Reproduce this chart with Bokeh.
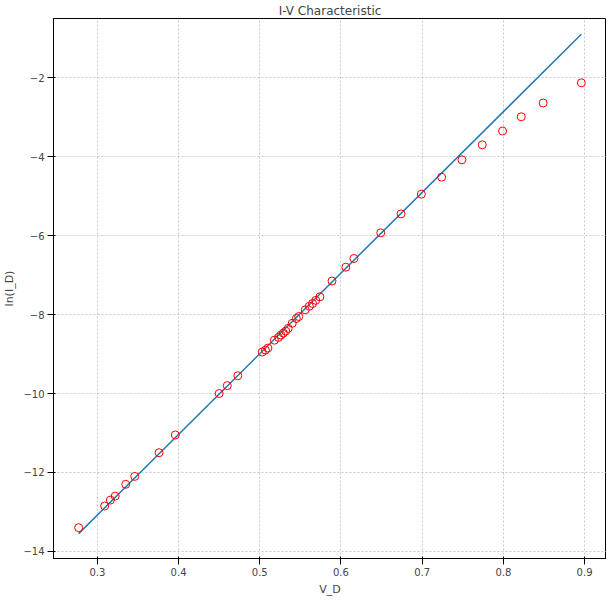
from bokeh.plotting import figure
from bokeh.embed import file_html
from bokeh.resources import INLINE
from bokeh.models import Range1d

v_d = [0.277,0.309,0.316,0.322,0.335,0.346,0.376,0.396,0.45,0.46,0.473,0.503,0.507,0.51,0.518,
       0.523,0.526,0.529,0.532,0.535,0.54,0.545,0.548,0.556,0.561,0.565,0.569,0.574,0.589,0.606,
       0.616,0.649,0.674,0.699,0.724,0.749,0.774,0.799,0.822,0.849,0.896]
ln_id = [-13.4,-12.85,-12.7,-12.6,-12.3,-12.1,-11.5,-11.05,-10.0,-9.8,-9.55,-8.95,-8.9,-8.85,-8.65,
         -8.58,-8.52,-8.47,-8.42,-8.35,-8.22,-8.1,-8.05,-7.88,-7.79,-7.72,-7.64,-7.55,-7.15,-6.8,
         -6.58,-5.93,-5.45,-4.95,-4.52,-4.08,-3.7,-3.35,-2.99,-2.64,-2.13]
fit_x = [0.277,0.896]
fit_y = [-13.55,-0.9]

p = figure(width=606, height=598, output_backend="svg", toolbar_location=None,
           title="I-V Characteristic", x_range=Range1d(0.246,0.927), y_range=Range1d(-14.18,-0.5),
           min_border_left=36, min_border_right=0, min_border_top=2, min_border_bottom=30)
p.title.align = "center"
p.title.text_font_style = "normal"
p.title.text_font_size = "12px"
p.title.text_font = "DejaVu Sans"
p.title.standoff = 2
p.line(fit_x, fit_y, line_color="#1f77b4", line_width=1.5)
p.scatter(v_d, ln_id, size=8, fill_color=None, line_color="red", line_width=1)
p.xaxis.axis_label = "V_D"
p.yaxis.axis_label = "ln(I_D)"
p.xaxis.ticker = [0.3,0.4,0.5,0.6,0.7,0.8,0.9]
p.yaxis.ticker = [-14,-12,-10,-8,-6,-4,-2]
for ax in (p.xaxis[0], p.yaxis[0]):
    ax.axis_label_text_font_style = "normal"
    ax.axis_label_text_font_size = "11px"
    ax.major_label_text_font_size = "10px"
    ax.axis_label_text_font = "DejaVu Sans"
    ax.major_label_text_font = "DejaVu Sans"
    ax.minor_tick_line_color = None
    ax.axis_line_color = "black"
    ax.axis_label_standoff = 4
    ax.major_label_standoff = 3
p.grid.grid_line_color = "#c8c8c8"
p.grid.grid_line_dash = "2 2"
p.outline_line_color = "black"
p.outline_line_alpha = 1
open("out.html", "w").write(file_html(p, INLINE))
